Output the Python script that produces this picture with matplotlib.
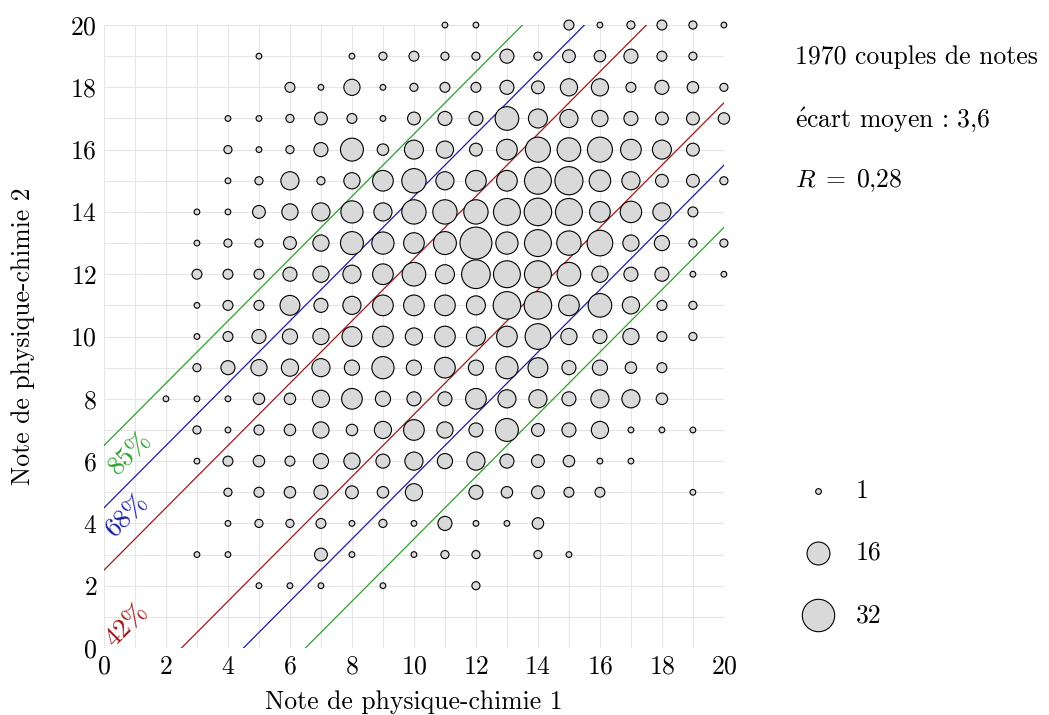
import matplotlib
matplotlib.use("Agg")
import matplotlib.pyplot as plt
import numpy as np

plt.rcParams["font.family"] = ["cmr10", "DejaVu Serif"]
plt.rcParams["mathtext.fontset"] = "cm"
plt.rcParams["axes.formatter.use_mathtext"] = True

# ---------------------------------------------------------------------------
# Data: number of students per (note 1, note 2) couple
# rows = note 2 from 20 down to 0, columns = note 1 from 0 to 20
# ---------------------------------------------------------------------------
note1 = list(range(21))
note2 = list(range(20, -1, -1))
counts = [
    [0, 0, 0, 0, 0, 0, 0, 0, 0, 0, 0, 1, 1, 0, 0, 3, 1, 2, 3, 2, 1],   # 20
    [0, 0, 0, 0, 0, 1, 0, 0, 1, 2, 3, 2, 2, 6, 2, 5, 4, 6, 3, 2, 0],   # 19
    [0, 0, 0, 0, 0, 0, 3, 1, 8, 1, 2, 3, 3, 6, 5, 9, 9, 3, 6, 4, 2],   # 18
    [0, 0, 0, 0, 1, 1, 2, 5, 3, 1, 5, 6, 6, 17, 11, 10, 8, 6, 5, 5, 4],  # 17
    [0, 0, 0, 0, 2, 1, 2, 6, 16, 4, 11, 9, 5, 13, 19, 17, 19, 13, 11, 5, 0],  # 16
    [0, 0, 0, 0, 1, 2, 10, 2, 8, 13, 18, 10, 13, 13, 22, 24, 14, 10, 5, 5, 2],  # 15
    [0, 0, 0, 1, 1, 5, 8, 10, 15, 10, 18, 18, 18, 22, 23, 22, 13, 14, 10, 3, 0],  # 14
    [0, 0, 0, 1, 2, 2, 5, 8, 16, 15, 13, 16, 31, 15, 22, 18, 20, 8, 7, 2, 2],  # 13
    [0, 0, 0, 3, 3, 3, 6, 8, 10, 13, 17, 11, 25, 22, 22, 17, 8, 6, 6, 1, 1],  # 12
    [0, 0, 0, 1, 3, 3, 12, 6, 10, 13, 13, 13, 11, 23, 23, 13, 17, 9, 3, 2, 0],  # 11
    [0, 0, 0, 1, 3, 6, 7, 8, 12, 13, 9, 13, 11, 13, 20, 8, 6, 8, 3, 2, 0],  # 10
    [0, 0, 0, 2, 6, 8, 9, 10, 7, 15, 7, 13, 7, 15, 12, 6, 7, 4, 3, 0, 0],  # 9
    [0, 0, 1, 1, 1, 4, 4, 9, 13, 7, 6, 6, 13, 10, 10, 6, 10, 10, 4, 0, 0],  # 8
    [0, 0, 0, 2, 1, 3, 4, 8, 4, 9, 13, 8, 6, 16, 5, 6, 9, 1, 1, 1, 0],   # 7
    [0, 0, 0, 1, 3, 4, 3, 7, 8, 6, 10, 7, 10, 6, 5, 4, 1, 1, 0, 0, 0],   # 6
    [0, 0, 0, 0, 2, 3, 4, 6, 5, 4, 9, 0, 6, 4, 5, 3, 3, 0, 0, 1, 0],     # 5
    [0, 0, 0, 0, 1, 2, 2, 3, 1, 2, 1, 6, 1, 1, 4, 0, 0, 0, 0, 0, 0],     # 4
    [0, 0, 0, 1, 1, 0, 0, 5, 1, 0, 1, 2, 2, 0, 2, 1, 0, 0, 0, 0, 0],     # 3
    [0, 0, 0, 0, 0, 1, 1, 1, 0, 1, 0, 0, 2, 0, 0, 0, 0, 0, 0, 0, 0],     # 2
    [0] * 21,                                                            # 1
    [0] * 21,                                                            # 0
]

# bands |note2 - note1| <= offset and the share of couples inside
band_offsets = [2.5, 4.5, 6.5]
band_labels = ["42%", "68%", "85%"]
band_colors = ["#a01818", "#1c1ca8", "#2ca02c"]
legend_sizes = [1, 16, 32]
info_lines = ["1970 couples de notes",
              r"$\mathrm{\acute{e}}$cart moyen : 3,6",
              r"$R\;=\;0{,}28$"]

S = 17.0    # marker area (pt^2) per couple
FS = 18.5   # main font size


def main() -> None:
    c = np.array(counts)
    X, Y = np.meshgrid(note1, note2)
    m = c > 0

    fig = plt.figure(figsize=(10.49, 7.15), dpi=100)
    ax = fig.add_axes([0.0991, 0.0937, 0.5910, 0.8713])

    ax.set_xlim(0, 20)
    ax.set_ylim(0, 20)
    ax.set_xticks(range(0, 21, 2))
    ax.set_yticks(range(0, 21, 2))
    ax.set_xticks(range(0, 21), minor=True)
    ax.set_yticks(range(0, 21), minor=True)
    ax.grid(which="both", color="#e6e6e6", linewidth=0.8)
    ax.set_axisbelow(True)
    for sp in ax.spines.values():
        sp.set_visible(False)
    ax.tick_params(which="both", length=0, labelsize=FS, pad=5)

    xs = np.array([-1, 21])
    for off, col in zip(band_offsets, band_colors):
        ax.plot(xs, xs + off, color=col, lw=0.9)
        ax.plot(xs, xs - off, color=col, lw=0.9)

    ax.scatter(X[m], Y[m], s=S * c[m], facecolor="#d9d9d9",
               edgecolor="black", linewidth=0.8, clip_on=False, zorder=3)

    label_pos = [(0.74, 0.74), (0.74, 4.27), (0.84, 6.26)]
    for (lx, ly), lab, col in zip(label_pos, band_labels, band_colors):
        ax.text(lx, ly, lab, color=col, rotation=45, fontsize=19.5,
                ha="center", va="center")

    ax.set_xlabel("Note de physique-chimie 1", fontsize=FS, labelpad=8)
    ax.set_ylabel("Note de physique-chimie 2", fontsize=FS, labelpad=25)

    for i, line in enumerate(info_lines):
        fig.text(0.758, 0.920 - i * 0.0867, line, fontsize=FS, va="center")

    handles = [ax.scatter([], [], s=S * n, facecolor="#d9d9d9",
                          edgecolor="black", linewidth=0.8) for n in legend_sizes]
    ax.legend(handles, [str(n) for n in legend_sizes], loc="center left",
              bbox_to_anchor=(1.089, 0.1525), frameon=False, fontsize=FS,
              labelspacing=1.5, handletextpad=0.5, borderpad=0)

    fig.savefig("out.png", dpi=100)


if __name__ == "__main__":
    main()
